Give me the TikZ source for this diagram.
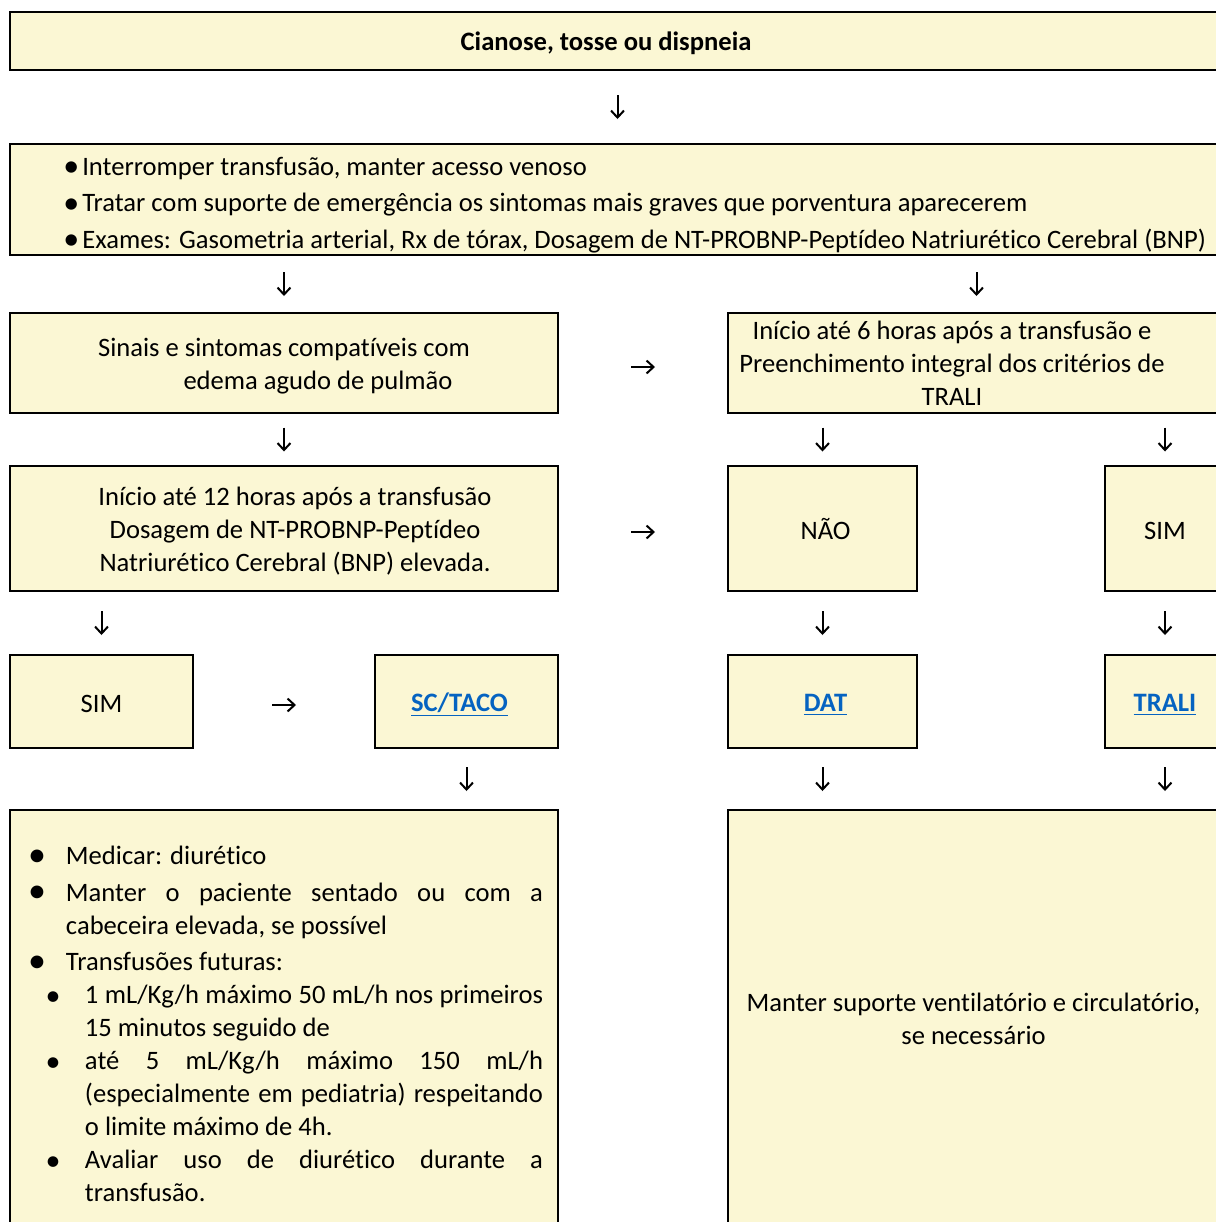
\documentclass[tikz,border=0pt]{standalone}
\usepackage{fontspec}
\setmainfont{Carlito}[Ligatures={TeX,NoCommon}]
\usepackage{tikz}
\usetikzlibrary{arrows.meta}
\definecolor{ink}{HTML}{000000}
\definecolor{cream}{HTML}{FBF7D4}
\definecolor{weblink}{HTML}{0563C1}
\newcommand{\bigdot}[1]{\raisebox{-0.06em}{\fontsize{#1}{#1}\selectfont\textbullet}}
\newcommand{\pointA}{\par\vspace{1.75pt}\leftskip=20.5pt\noindent\llap{\makebox[29pt]{\bigdot{18}}}}
\newcommand{\pointB}{\par\leftskip=30pt\noindent\llap{\makebox[32pt]{\bigdot{15}}}}
\newcommand{\stack}[1]{\begin{tabular}{@{}c@{}}#1\end{tabular}}
\newcommand{\lstack}[1]{\begin{tabular}{@{}l@{}}#1\end{tabular}}
\newcommand{\lowered}[2][1.5pt]{\raisebox{-#1}[\height][\depth]{#2}}
\newcommand{\lnk}[1]{\textcolor{weblink}{\bfseries\underline{#1}}}

\begin{document}
\begin{tikzpicture}[x=0.5pt,y=-0.5pt,
  every node/.style={font=\fontsize{13.3}{16.5}\selectfont},
  box/.style 2 args={draw=ink,line width=1pt,fill=cream,inner sep=0pt,minimum width=#1,minimum height=#2},
  glyph/.style={-{Straight Barb[length=3.5pt,width=6.5pt]},line width=1pt,ink},
  gap/.style={shorten <=#1,shorten >=#1}]
  \useasboundingbox (0,0) rectangle (1216,1222);
  \clip (0,0) rectangle (1216,1222);
  \fill[white] (0,0) rectangle (1216,1222);
  % first reaction
  \node[box={607.5pt}{29pt}] (sign) at (617.5,41) {\lowered[1pt]{\bfseries Cianose, tosse ou dispneia}\hspace*{11.5pt}};
  \node[box={607.5pt}{55.5pt},font=\fontsize{13.3}{18.25}\selectfont] (first) at (617.5,199.5)
    {\hspace*{17pt}\lowered[2.5pt]{\lstack{\makebox[9.5pt][l]{\bigdot{16}}Interromper transfusão, manter acesso venoso\\
     \makebox[9.5pt][l]{\bigdot{16}}Tratar com suporte de emergência os sintomas mais graves que porventura aparecerem\\
     \makebox[9.5pt][l]{\bigdot{16}}Exames: Gasometria arterial, Rx de tórax, Dosagem de NT-PROBNP-Peptídeo Natriurético Cerebral (BNP)}}};
  % criteria
  \node[box={274pt}{50pt}] (edema) at (284,363) {\lowered{\stack{Sinais e sintomas compatíveis com\\\hspace*{34pt}edema agudo de pulmão}}};
  \node[box={248.5pt}{50pt}] (trali6) at (976.5,363) {\lowered{\stack{Início até 6 horas após a transfusão e\\Preenchimento integral dos critérios de\\TRALI}}\hspace*{24.5pt}};
  \node[box={274pt}{62.5pt}] (bnp) at (284,528.5) {\hspace*{11pt}\lowered{\stack{Início até 12 horas após a transfusão\\Dosagem de NT-PROBNP-Peptídeo\\Natriurético Cerebral (BNP) elevada.}}};
  \node[box={94.5pt}{62.5pt}] (nao) at (822.5,528.5) {\hspace*{3pt}NÃO};
  \node[box={60pt}{62.5pt}] (simR) at (1165,528.5) {\lowered[1pt]{SIM}};
  % diagnoses
  \node[box={91.5pt}{46.5pt}] (simL) at (101.5,701.5) {\lowered[1pt]{SIM}};
  \node[box={91.5pt}{46.5pt}] (taco) at (466.5,701.5) {\lowered{\lnk{SC/TACO}}\hspace*{7pt}};
  \node[box={94.5pt}{46.5pt}] (dat) at (822.5,701.5) {\hspace*{3pt}\lowered{\lnk{DAT}}};
  \node[box={60pt}{46.5pt}] (trali) at (1165,701.5) {\lowered{\lnk{TRALI}}};
  % conduct
  \node[box={274pt}{211pt},text width=259pt,align=justify] (treat) at (284,1021)
    {\hyphenpenalty=10000\exhyphenpenalty=10000\tolerance=10000
     \pointA Medicar: diurético
     \pointA Manter o paciente sentado ou com a\linebreak cabeceira elevada, se possível
     \pointA Transfusões futuras:
     \pointB 1 mL/Kg/h máximo 50 mL/h nos primeiros\linebreak 15 minutos seguido de
     \pointB até 5 mL/Kg/h máximo 150 mL/h\linebreak (especialmente em pediatria) respeitando\linebreak o limite máximo de 4h.
     \pointB Avaliar uso de diurético durante a\linebreak transfusão.\par\kern6pt};
  \node[box={248.5pt}{211pt}] (support) at (976.5,1021) {\stack{Manter suporte ventilatório e circulatório,\\se necessário}\hspace*{3pt}};
  % arrows
  \draw[glyph,gap=12pt] (sign.south) -- (sign.south |- first.north);
  \draw[glyph,gap=8pt] (edema.north |- first.south) -- (edema.north);
  \draw[glyph,gap=8pt] (trali6.north |- first.south) -- (trali6.north);
  \draw[glyph,gap=6.75pt] (edema.south) -- (bnp.north);
  \draw[glyph,gap=6.75pt] (nao.north |- trali6.south) -- (nao.north);
  \draw[glyph,gap=6.75pt] (simR.north |- trali6.south) -- (simR.north);
  \draw[glyph,gap=9.5pt] (simL.north |- bnp.south) -- (simL.north);
  \draw[glyph,gap=9.5pt] (nao.south) -- (dat.north);
  \draw[glyph,gap=9.5pt] (simR.south) -- (trali.north);
  \draw[glyph,gap=9pt] (taco.south) -- (taco.south |- treat.north);
  \draw[glyph,gap=9pt] (dat.south) -- (dat.south |- support.north);
  \draw[glyph,gap=9pt] (trali.south) -- (trali.south |- support.north);
  \draw[glyph,gap=36pt] ([yshift=-2pt]edema.east) -- ([yshift=-2pt]trali6.west);
  \draw[glyph,gap=36pt] ([yshift=-1.75pt]bnp.east) -- ([yshift=-1.75pt]nao.west);
  \draw[glyph,gap=39pt] ([yshift=-1.75pt]simL.east) -- ([yshift=-1.75pt]taco.west);
\end{tikzpicture}
\end{document}
